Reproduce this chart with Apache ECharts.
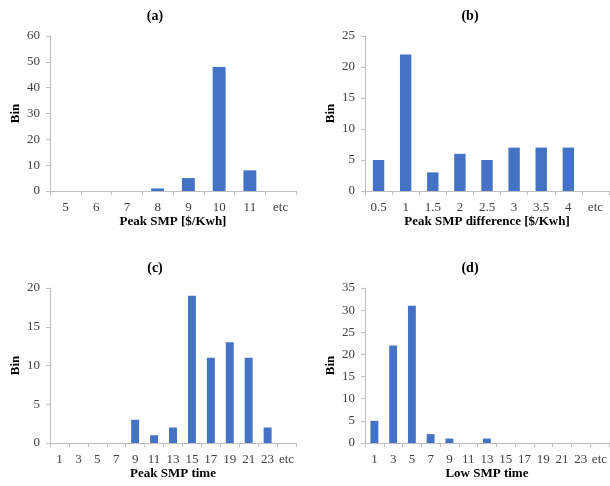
<!DOCTYPE html>
<html><head><meta charset="utf-8">
<script src="https://cdn.jsdelivr.net/npm/echarts@6/dist/echarts.min.js"></script>
<style>html,body{margin:0;padding:0;background:#fff}#c{width:610px;height:486px}</style>
</head><body><div id="c"></div>
<script>
const catsA = ['5','6','7','8','9','10','11','etc'];
const valsA = [0,0,0,1,5,48,8,0];
const catsB = ['0.5','1','1.5','2','2.5','3','3.5','4','etc'];
const valsB = [5,22,3,6,5,7,7,7,0];
const catsC = ['1','3','5','7','9','11','13','15','17','19','21','23','etc'];
const valsC = [0,0,0,0,3,1,2,19,11,13,11,2,0];
const catsD = ['1','3','5','7','9','11','13','15','17','19','21','23','etc'];
const valsD = [5,22,31,2,1,0,1,0,0,0,0,0,0];
const titles = ['(a)','(b)','(c)','(d)'];
const xNames = ['Peak SMP [$/Kwh]','Peak SMP difference [$/Kwh]','Peak SMP time','Low SMP time'];
const yMax = [60,25,20,35];
const yInt = [10,5,5,5];

const FONT = '"Liberation Serif", "Times New Roman", serif';
const grids = [
  {left:50, top:36, width:246, height:155},
  {left:365, top:36, width:244, height:155},
  {left:50, top:288, width:246, height:155},
  {left:365, top:288, width:244, height:155}
];
const titlePos = [[150,4],[465,4],[150,256],[465,256]];
const cats = [catsA,catsB,catsC,catsD];
const vals = [valsA,valsB,valsC,valsD];
const axisLine = {show:true, lineStyle:{color:'#bfbfbf', width:1}};
const option = {
  animation:false,
  title: titles.map((t,i)=>({text:t, left:titlePos[i][0], top:titlePos[i][1], textAlign:'center',
    textStyle:{fontFamily:FONT, fontWeight:'bold', fontSize:14, color:'#000'}})),
  grid: grids,
  xAxis: cats.map((c,i)=>({type:'category', gridIndex:i, data:c, name:xNames[i], nameLocation:'middle', nameGap:24,
    nameTextStyle:{fontFamily:FONT, fontWeight:'bold', fontSize:13, color:'#000'},
    axisLine, axisTick:{show:true, length:4, lineStyle:{color:'#bfbfbf'}},
    axisLabel:{fontFamily:FONT, fontSize:13, color:'#404040', margin:10, interval:0}})),
  yAxis: yMax.map((m,i)=>({type:'value', gridIndex:i, min:0, max:m, interval:yInt[i], name:'Bin', nameLocation:'middle', nameGap:28,
    nameTextStyle:{fontFamily:FONT, fontWeight:'bold', fontSize:13, color:'#000'},
    axisLine, axisTick:{show:true, length:4, lineStyle:{color:'#bfbfbf'}}, splitLine:{show:false},
    axisLabel:{fontFamily:FONT, fontSize:13, color:'#404040', margin:10}})),
  series: vals.map((v,i)=>({type:'bar', xAxisIndex:i, yAxisIndex:i, data:v, barCategoryGap:'58%',
    itemStyle:{color:'#4472C4'}}))
};
echarts.init(document.getElementById('c')).setOption(option);
</script></body></html>
